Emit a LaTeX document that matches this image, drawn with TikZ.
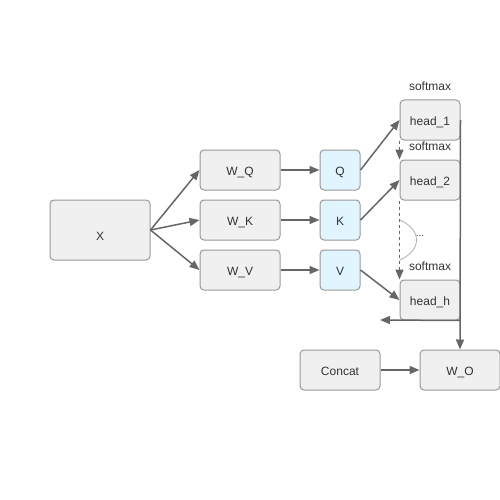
\documentclass[tikz,border=0pt]{standalone}
\usepackage{fontspec}
\setmainfont{Liberation Sans}
\usetikzlibrary{arrows.meta}
\definecolor{boxfill}{HTML}{F0F0F0}
\definecolor{boxline}{HTML}{999999}
\definecolor{qfill}{HTML}{E1F5FE}
\definecolor{edge}{HTML}{666666}
\definecolor{txt}{HTML}{333333}
\begin{document}
\begin{tikzpicture}[x=1pt,y=-1pt,
  box/.style={draw=boxline,fill=boxfill,rounded corners=4pt,line width=1pt,inner sep=0pt,
    text=txt,font=\fontsize{12}{14}\selectfont,text height=12pt,text depth=1pt},
  qbox/.style={box,fill=qfill},
  lbl/.style={text=txt,font=\fontsize{12}{14}\selectfont,inner sep=0pt},
  conn/.style={draw=edge,line width=1.5pt,-{Triangle[length=10pt,width=8pt]}},
]
\useasboundingbox (0,0) rectangle (500,500);
\node[box,minimum width=100pt,minimum height=60pt] (X) at (100,230) {};
\node[lbl] (Xl) at (100,236) {X};
\node[box,minimum width=80pt,minimum height=40pt] (WQ) at (240,170) {W\_Q};
\node[box,minimum width=80pt,minimum height=40pt] (WK) at (240,220) {W\_K};
\node[box,minimum width=80pt,minimum height=40pt] (WV) at (240,270) {W\_V};
\node[qbox,minimum width=40pt,minimum height=40pt] (Q) at (340,170) {Q};
\node[qbox,minimum width=40pt,minimum height=40pt] (K) at (340,220) {K};
\node[qbox,minimum width=40pt,minimum height=40pt] (V) at (340,270) {V};
\node[box,minimum width=60pt,minimum height=40pt] (h1) at (430,120) {head\_1};
\node[box,minimum width=60pt,minimum height=40pt] (h2) at (430,180) {head\_2};
\node[box,minimum width=60pt,minimum height=40pt] (hh) at (430,300) {head\_h};
\node[lbl] (s1) at (430,86) {softmax};
\node[lbl] (s2) at (430,146) {softmax};
\node[lbl] (s3) at (430,266) {softmax};
\node[box,minimum width=80pt,minimum height=40pt] (C) at (340,370) {Concat};
\node[box,minimum width=80pt,minimum height=40pt] (WO) at (460,370) {W\_O};
\coordinate (back) at (380,320);
\coordinate (a1) at (400,220);
\coordinate (a2) at (400,260);
\node[lbl,font=\fontsize{10}{11}\selectfont] (dots) at (420,236) {...};

\draw[conn] (X.east) -- (WQ.west);
\draw[conn] (X.east) -- (WK.west);
\draw[conn] (X.east) -- (WV.west);
\draw[conn] (WQ) -- (Q);
\draw[conn] (WK) -- (K);
\draw[conn] (WV) -- (V);
\draw[conn] (Q.east) -- (h1.west);
\draw[conn] (K.east) -- (h2.west);
\draw[conn] (V.east) -- (hh.west);
\draw[conn,dashed] (h1.south west) -- (h2.north west);
\draw[conn,dashed] (h2.south west) -- (hh.north west);
\draw[draw=boxline!80,line width=0.8pt] (a1) .. controls (422,230) and (422,250) .. (a2);
\draw[conn] (h1.east) -- (WO.north);
\draw[conn] (hh.south east) -- (back);
\draw[conn] (C) -- (WO);
\end{tikzpicture}
\end{document}
